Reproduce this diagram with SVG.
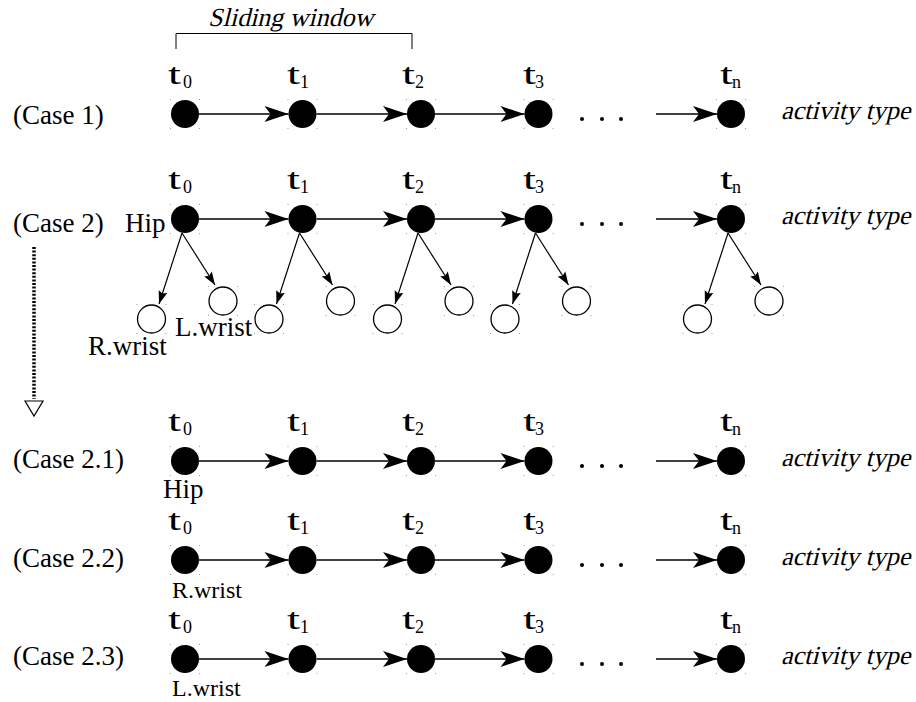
<svg xmlns="http://www.w3.org/2000/svg" xmlns:xlink="http://www.w3.org/1999/xlink" width="916" height="702" viewBox="0 0 916 702">
  <style>
    text { font-family: "Liberation Serif", "Times New Roman", serif; fill: #000; }
    .case { font-size: 27px; }
    .lbl { font-size: 27px; }
    .lbl-s { font-size: 24px; }
    .it { font-size: 26px; }
    .t { font-size: 30px; }
    .sub { font-size: 18px; }
    .full { fill: #000; }
    .open { fill: #fff; stroke: #000; stroke-width: 1.3; }
    .edge { stroke: #000; stroke-width: 1.6; fill: none; marker-end: url(#stealth); }
    .obs { stroke: #000; stroke-width: 1.2; fill: none; marker-end: url(#tri); }
    .dotd { fill: #000; }
  </style>
  <defs>
    <marker id="stealth" markerUnits="userSpaceOnUse" markerWidth="26" markerHeight="18" refX="24" refY="8" orient="auto" overflow="visible">
      <path d="M0,0 L24,8 L0,16 L6,8 z" fill="#000"/>
    </marker>
    <marker id="tri" markerUnits="userSpaceOnUse" markerWidth="14" markerHeight="10" refX="13" refY="4.5" orient="auto" overflow="visible">
      <path d="M0,0 L13,4.5 L0,9 L2,4.5 z" fill="#000"/>
    </marker>
    <!-- faint bounding-box corner marks left around each circle -->
    <g id="corners" fill="#9a9a9a">
      <rect x="-15" y="-15" width="1" height="1"/>
      <rect x="14" y="-15" width="1" height="1"/>
      <rect x="-15" y="14" width="1" height="1"/>
      <rect x="14" y="14" width="1" height="1"/>
    </g>
    <!-- slanted output label, drawn at the origin and placed with a transform -->
    <text id="act" class="it" transform="skewX(-14)">activity type</text>
  </defs>

  <rect width="916" height="702" fill="#fff"/>

  <!-- sliding window bracket -->
  <g id="sliding-window">
    <text class="it" transform="translate(208,26) skewX(-14)">Sliding window</text>
    <path d="M176,49 V33.5 H412 V49" fill="none" stroke="#000" stroke-width="1"/>
  </g>

  <!-- row labels -->
  <g id="row-labels">
    <text class="case" x="13" y="124">(Case 1)</text>
    <text class="case" x="13" y="232">(Case 2)</text>
    <text class="case" x="13" y="468">(Case 2.1)</text>
    <text class="case" x="13" y="567">(Case 2.2)</text>
    <text class="case" x="13" y="665">(Case 2.3)</text>
  </g>

  <!-- refinement arrow from case 2 to its sub-cases -->
  <g id="refine">
    <line x1="34" y1="247" x2="34" y2="399" stroke="#000" stroke-width="3.5" stroke-dasharray="2 1.6"/>
    <path d="M25,401 H43 L34,416 z" fill="#fff" stroke="#000" stroke-width="1.2"/>
  </g>

  <!-- time-step labels -->
  <g id="time-labels">
    <g id="tl-r1">
      <text class="t" x="168" y="84" textLength="13" lengthAdjust="spacingAndGlyphs">t</text><text class="sub" x="183" y="88">0</text>
      <text class="t" x="287" y="84" textLength="13" lengthAdjust="spacingAndGlyphs">t</text><text class="sub" x="300" y="88">1</text>
      <text class="t" x="402" y="84" textLength="13" lengthAdjust="spacingAndGlyphs">t</text><text class="sub" x="415" y="88">2</text>
      <text class="t" x="523" y="84" textLength="13" lengthAdjust="spacingAndGlyphs">t</text><text class="sub" x="535" y="88">3</text>
      <text class="t" x="720" y="84" textLength="13" lengthAdjust="spacingAndGlyphs">t</text><text class="sub" x="732" y="88">n</text>
    </g>
    <g id="tl-r2">
      <text class="t" x="168" y="189" textLength="13" lengthAdjust="spacingAndGlyphs">t</text><text class="sub" x="183" y="193">0</text>
      <text class="t" x="287" y="189" textLength="13" lengthAdjust="spacingAndGlyphs">t</text><text class="sub" x="300" y="193">1</text>
      <text class="t" x="402" y="189" textLength="13" lengthAdjust="spacingAndGlyphs">t</text><text class="sub" x="415" y="193">2</text>
      <text class="t" x="523" y="189" textLength="13" lengthAdjust="spacingAndGlyphs">t</text><text class="sub" x="535" y="193">3</text>
      <text class="t" x="720" y="189" textLength="13" lengthAdjust="spacingAndGlyphs">t</text><text class="sub" x="732" y="193">n</text>
    </g>
    <g id="tl-r21">
      <text class="t" x="168" y="431" textLength="13" lengthAdjust="spacingAndGlyphs">t</text><text class="sub" x="183" y="435">0</text>
      <text class="t" x="287" y="431" textLength="13" lengthAdjust="spacingAndGlyphs">t</text><text class="sub" x="300" y="435">1</text>
      <text class="t" x="402" y="431" textLength="13" lengthAdjust="spacingAndGlyphs">t</text><text class="sub" x="415" y="435">2</text>
      <text class="t" x="523" y="431" textLength="13" lengthAdjust="spacingAndGlyphs">t</text><text class="sub" x="535" y="435">3</text>
      <text class="t" x="720" y="431" textLength="13" lengthAdjust="spacingAndGlyphs">t</text><text class="sub" x="732" y="435">n</text>
    </g>
    <g id="tl-r22">
      <text class="t" x="168" y="530" textLength="13" lengthAdjust="spacingAndGlyphs">t</text><text class="sub" x="183" y="534">0</text>
      <text class="t" x="287" y="530" textLength="13" lengthAdjust="spacingAndGlyphs">t</text><text class="sub" x="300" y="534">1</text>
      <text class="t" x="402" y="530" textLength="13" lengthAdjust="spacingAndGlyphs">t</text><text class="sub" x="415" y="534">2</text>
      <text class="t" x="523" y="530" textLength="13" lengthAdjust="spacingAndGlyphs">t</text><text class="sub" x="535" y="534">3</text>
      <text class="t" x="720" y="530" textLength="13" lengthAdjust="spacingAndGlyphs">t</text><text class="sub" x="732" y="534">n</text>
    </g>
    <g id="tl-r23">
      <text class="t" x="168" y="629" textLength="13" lengthAdjust="spacingAndGlyphs">t</text><text class="sub" x="183" y="633">0</text>
      <text class="t" x="287" y="629" textLength="13" lengthAdjust="spacingAndGlyphs">t</text><text class="sub" x="300" y="633">1</text>
      <text class="t" x="402" y="629" textLength="13" lengthAdjust="spacingAndGlyphs">t</text><text class="sub" x="415" y="633">2</text>
      <text class="t" x="523" y="629" textLength="13" lengthAdjust="spacingAndGlyphs">t</text><text class="sub" x="535" y="633">3</text>
      <text class="t" x="720" y="629" textLength="13" lengthAdjust="spacingAndGlyphs">t</text><text class="sub" x="732" y="633">n</text>
    </g>
  </g>

  <!-- connectors -->
  <g id="connectors">
    <!-- case 1 -->
    <line class="edge" x1="199" y1="114" x2="288.5" y2="114"/>
    <line class="edge" x1="316.5" y1="114" x2="407" y2="114"/>
    <line class="edge" x1="435" y1="114" x2="524.5" y2="114"/>
    <line class="edge" x1="656" y1="114" x2="717" y2="114"/>
    <!-- case 2 -->
    <line class="edge" x1="199" y1="219" x2="288.5" y2="219"/>
    <line class="edge" x1="316.5" y1="219" x2="407" y2="219"/>
    <line class="edge" x1="435" y1="219" x2="524.5" y2="219"/>
    <line class="edge" x1="656" y1="219" x2="717" y2="219"/>
    <line class="obs" x1="182" y1="233" x2="159" y2="304"/>
    <line class="obs" x1="182" y1="233" x2="215" y2="285"/>
    <line class="obs" x1="299.5" y1="233" x2="276.5" y2="304"/>
    <line class="obs" x1="299.5" y1="233" x2="332.5" y2="285"/>
    <line class="obs" x1="418" y1="233" x2="395" y2="304"/>
    <line class="obs" x1="418" y1="233" x2="451" y2="285"/>
    <line class="obs" x1="535.5" y1="233" x2="512.5" y2="304"/>
    <line class="obs" x1="535.5" y1="233" x2="568.5" y2="285"/>
    <line class="obs" x1="728" y1="233" x2="705" y2="304"/>
    <line class="obs" x1="728" y1="233" x2="761" y2="285"/>
    <!-- case 2.1 -->
    <line class="edge" x1="199" y1="461" x2="288.5" y2="461"/>
    <line class="edge" x1="316.5" y1="461" x2="407" y2="461"/>
    <line class="edge" x1="435" y1="461" x2="524.5" y2="461"/>
    <line class="edge" x1="656" y1="461" x2="717" y2="461"/>
    <!-- case 2.2 -->
    <line class="edge" x1="199" y1="560" x2="288.5" y2="560"/>
    <line class="edge" x1="316.5" y1="560" x2="407" y2="560"/>
    <line class="edge" x1="435" y1="560" x2="524.5" y2="560"/>
    <line class="edge" x1="656" y1="560" x2="717" y2="560"/>
    <!-- case 2.3 -->
    <line class="edge" x1="199" y1="659" x2="288.5" y2="659"/>
    <line class="edge" x1="316.5" y1="659" x2="407" y2="659"/>
    <line class="edge" x1="435" y1="659" x2="524.5" y2="659"/>
    <line class="edge" x1="656" y1="659" x2="717" y2="659"/>
  </g>

  <!-- ellipsis between t3 and tn -->
  <g id="ellipses" class="dotd">
    <circle cx="582" cy="119" r="2"/><circle cx="602" cy="119" r="2"/><circle cx="621" cy="119" r="2"/>
    <circle cx="582" cy="224" r="2"/><circle cx="602" cy="224" r="2"/><circle cx="621" cy="224" r="2"/>
    <circle cx="582" cy="466" r="2"/><circle cx="602" cy="466" r="2"/><circle cx="621" cy="466" r="2"/>
    <circle cx="582" cy="565" r="2"/><circle cx="602" cy="565" r="2"/><circle cx="621" cy="565" r="2"/>
    <circle cx="582" cy="664" r="2"/><circle cx="602" cy="664" r="2"/><circle cx="621" cy="664" r="2"/>
  </g>

  <!-- case 1 nodes -->
  <g id="c1-t0"><circle class="full" cx="185" cy="114" r="14"/><use xlink:href="#corners" x="185" y="114"/></g>
  <g id="c1-t1"><circle class="full" cx="302.5" cy="114" r="14"/><use xlink:href="#corners" x="302.5" y="114"/></g>
  <g id="c1-t2"><circle class="full" cx="421" cy="114" r="14"/><use xlink:href="#corners" x="421" y="114"/></g>
  <g id="c1-t3"><circle class="full" cx="538.5" cy="114" r="14"/><use xlink:href="#corners" x="538.5" y="114"/></g>
  <g id="c1-tn"><circle class="full" cx="731" cy="114" r="14"/><use xlink:href="#corners" x="731" y="114"/></g>
  <g id="c1-out"><use xlink:href="#act" x="781" y="119"/></g>

  <!-- case 2 nodes: hip with two wrist children per step -->
  <g id="c2-t0"><circle class="full" cx="185" cy="219" r="14"/><use xlink:href="#corners" x="185" y="219"/><text class="lbl" x="125" y="232">Hip</text></g>
  <g id="c2-t1"><circle class="full" cx="302.5" cy="219" r="14"/><use xlink:href="#corners" x="302.5" y="219"/></g>
  <g id="c2-t2"><circle class="full" cx="421" cy="219" r="14"/><use xlink:href="#corners" x="421" y="219"/></g>
  <g id="c2-t3"><circle class="full" cx="538.5" cy="219" r="14"/><use xlink:href="#corners" x="538.5" y="219"/></g>
  <g id="c2-tn"><circle class="full" cx="731" cy="219" r="14"/><use xlink:href="#corners" x="731" y="219"/></g>
  <g id="c2-out"><use xlink:href="#act" x="781" y="224"/></g>

  <g id="c2-t0-rw"><circle class="open" cx="151.5" cy="319" r="14"/><use xlink:href="#corners" x="151.5" y="319"/><text class="lbl" x="88" y="355">R.wrist</text></g>
  <g id="c2-t0-lw"><circle class="open" cx="223" cy="301" r="14"/><use xlink:href="#corners" x="223" y="301"/><text class="lbl" x="175" y="336">L.wrist</text></g>
  <g id="c2-t1-rw"><circle class="open" cx="269" cy="319" r="14"/><use xlink:href="#corners" x="269" y="319"/></g>
  <g id="c2-t1-lw"><circle class="open" cx="340.5" cy="301" r="14"/><use xlink:href="#corners" x="340.5" y="301"/></g>
  <g id="c2-t2-rw"><circle class="open" cx="387.5" cy="319" r="14"/><use xlink:href="#corners" x="387.5" y="319"/></g>
  <g id="c2-t2-lw"><circle class="open" cx="459" cy="301" r="14"/><use xlink:href="#corners" x="459" y="301"/></g>
  <g id="c2-t3-rw"><circle class="open" cx="505" cy="319" r="14"/><use xlink:href="#corners" x="505" y="319"/></g>
  <g id="c2-t3-lw"><circle class="open" cx="576.5" cy="301" r="14"/><use xlink:href="#corners" x="576.5" y="301"/></g>
  <g id="c2-tn-rw"><circle class="open" cx="697.5" cy="319" r="14"/><use xlink:href="#corners" x="697.5" y="319"/></g>
  <g id="c2-tn-lw"><circle class="open" cx="769" cy="301" r="14"/><use xlink:href="#corners" x="769" y="301"/></g>

  <!-- case 2.1: hip only -->
  <g id="c21-t0"><circle class="full" cx="185" cy="461" r="14"/><use xlink:href="#corners" x="185" y="461"/><text class="lbl" x="163" y="498">Hip</text></g>
  <g id="c21-t1"><circle class="full" cx="302.5" cy="461" r="14"/><use xlink:href="#corners" x="302.5" y="461"/></g>
  <g id="c21-t2"><circle class="full" cx="421" cy="461" r="14"/><use xlink:href="#corners" x="421" y="461"/></g>
  <g id="c21-t3"><circle class="full" cx="538.5" cy="461" r="14"/><use xlink:href="#corners" x="538.5" y="461"/></g>
  <g id="c21-tn"><circle class="full" cx="731" cy="461" r="14"/><use xlink:href="#corners" x="731" y="461"/></g>
  <g id="c21-out"><use xlink:href="#act" x="781" y="466"/></g>

  <!-- case 2.2: right wrist only -->
  <g id="c22-t0"><circle class="full" cx="185" cy="560" r="14"/><use xlink:href="#corners" x="185" y="560"/><text class="lbl-s" x="172" y="598">R.wrist</text></g>
  <g id="c22-t1"><circle class="full" cx="302.5" cy="560" r="14"/><use xlink:href="#corners" x="302.5" y="560"/></g>
  <g id="c22-t2"><circle class="full" cx="421" cy="560" r="14"/><use xlink:href="#corners" x="421" y="560"/></g>
  <g id="c22-t3"><circle class="full" cx="538.5" cy="560" r="14"/><use xlink:href="#corners" x="538.5" y="560"/></g>
  <g id="c22-tn"><circle class="full" cx="731" cy="560" r="14"/><use xlink:href="#corners" x="731" y="560"/></g>
  <g id="c22-out"><use xlink:href="#act" x="781" y="565"/></g>

  <!-- case 2.3: left wrist only -->
  <g id="c23-t0"><circle class="full" cx="185" cy="659" r="14"/><use xlink:href="#corners" x="185" y="659"/><text class="lbl-s" x="172" y="696">L.wrist</text></g>
  <g id="c23-t1"><circle class="full" cx="302.5" cy="659" r="14"/><use xlink:href="#corners" x="302.5" y="659"/></g>
  <g id="c23-t2"><circle class="full" cx="421" cy="659" r="14"/><use xlink:href="#corners" x="421" y="659"/></g>
  <g id="c23-t3"><circle class="full" cx="538.5" cy="659" r="14"/><use xlink:href="#corners" x="538.5" y="659"/></g>
  <g id="c23-tn"><circle class="full" cx="731" cy="659" r="14"/><use xlink:href="#corners" x="731" y="659"/></g>
  <g id="c23-out"><use xlink:href="#act" x="781" y="664"/></g>
</svg>
